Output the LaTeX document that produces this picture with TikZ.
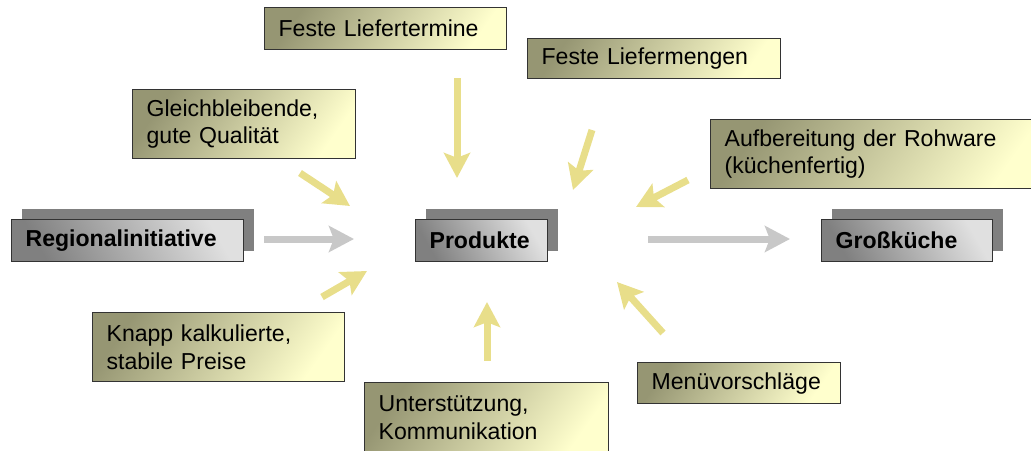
\documentclass[tikz,border=0pt]{standalone}
\usepackage{fontspec}
\setmainfont{Liberation Sans}
\usepackage{tikz}
\usetikzlibrary{arrows.meta,shadows,positioning}
\definecolor{boxdark}{RGB}{150,150,115}
\definecolor{boxlight}{RGB}{255,255,205}
\definecolor{arryellow}{RGB}{232,222,138}
\definecolor{arrgray}{RGB}{200,200,200}

\begin{document}
\begin{tikzpicture}[x=0.025cm,y=-0.025cm,
  font=\fontsize{16.4}{19.5}\selectfont,
  infobox/.style={draw=black!80,line width=0.9pt,top color=boxdark,bottom color=boxlight,shading angle=55,
    anchor=north west,align=left,inner xsep=0.35cm,inner ysep=0pt},
  mainbox/.style={draw=black!80,line width=0.9pt,top color=black!50,bottom color=black!12,shading angle=120,
    anchor=north west,align=left,inner xsep=0.35cm,inner ysep=0pt,minimum height=1.05cm,
    font=\fontsize{16.4}{19.5}\selectfont\bfseries,
    drop shadow={shadow xshift=0.25cm,shadow yshift=0.275cm,fill=black!50,opacity=1}},
  yarrow/.style={draw=arryellow,line width=0.175cm,-{Stealth[length=0.625cm,width=0.65cm,inset=0.12cm]}},
  garrow/.style={yarrow,draw=arrgray}]
\useasboundingbox (0,0) rectangle (1031,450);

% main chain
\node[mainbox,text width=5.1cm] (regional) at (11,219) {Regionalinitiative};
\node[mainbox,text width=2.6cm] (produkte) at (415,219) {Produkte};
\node[mainbox,text width=3.575cm] (kueche) at (821,219) {Großküche};

% requirements
\node[infobox,text width=5.35cm,minimum height=1.05cm] (termine) at (264,7) {Feste Liefertermine};
\node[infobox,text width=5.625cm,minimum height=1.0cm] (mengen) at (527,38) {Feste Liefermengen};
\node[infobox,text width=4.875cm,minimum height=1.725cm] (qualitaet) at (132,89) {Gleichbleibende,\\gute Qualität};
\node[infobox,text width=7.65cm,minimum height=1.725cm] (rohware) at (710,119) {Aufbereitung der Rohware\\(küchenfertig)};
\node[infobox,text width=5.6cm,minimum height=1.725cm] (preise) at (92,312) {Knapp kalkulierte,\\stabile Preise};
\node[infobox,text width=4.375cm,minimum height=1.025cm] (menue) at (637,362) {Menüvorschläge};
\node[infobox,text width=5.4cm,minimum height=1.75cm] (support) at (364,382) {Unterstützung,\\Kommunikation};

% arrow ends
\coordinate (termine-s) at (457,78);  \coordinate (termine-e) at (457,178);
\coordinate (mengen-s) at (592,130);  \coordinate (mengen-e) at (573,190);
\coordinate (rohware-s) at (688,180); \coordinate (rohware-e) at (636,207);
\coordinate (qualitaet-s) at (300,173); \coordinate (qualitaet-e) at (350,206);
\coordinate (preise-s) at (322,297);  \coordinate (preise-e) at (367,271);
\coordinate (support-s) at (487,361); \coordinate (support-e) at (487,302);
\coordinate (menue-s) at (663,333);   \coordinate (menue-e) at (617,282);
\coordinate (regional-s) at (264,239); \coordinate (regional-e) at (354,239);
\coordinate (kueche-s) at (648,239);  \coordinate (kueche-e) at (790,239);

\draw[yarrow] (termine-s) -- (termine-e);
\draw[yarrow] (mengen-s) -- (mengen-e);
\draw[yarrow] (rohware-s) -- (rohware-e);
\draw[yarrow] (qualitaet-s) -- (qualitaet-e);
\draw[yarrow] (preise-s) -- (preise-e);
\draw[yarrow] (support-s) -- (support-e);
\draw[yarrow] (menue-s) -- (menue-e);
\draw[garrow] (regional-s) -- (regional-e);
\draw[garrow] (kueche-s) -- (kueche-e);
\end{tikzpicture}
\end{document}
